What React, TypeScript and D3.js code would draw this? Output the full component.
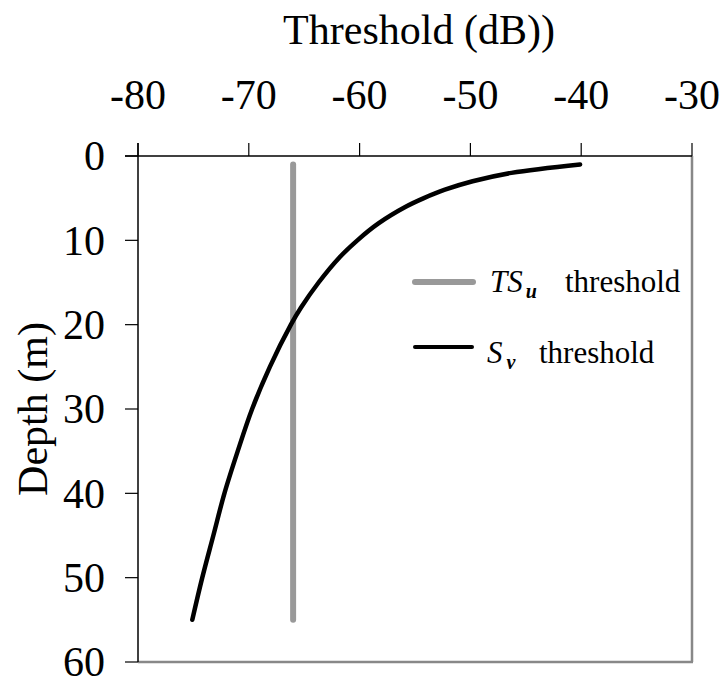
import React from "react";
import * as d3 from "d3";

const xTicks = [-80, -70, -60, -50, -40, -30];
const yTicks = [0, 10, 20, 30, 40, 50, 60];

// TSu threshold (vertical line)
const tsDepth = [1, 55];
const tsValue = [-66, -66];

// Sv threshold curve
const svDepth = [1, 2, 3, 4, 5, 6, 8, 10, 12, 15, 18, 20, 25, 30, 35, 40, 45, 50, 55];
const svValue = [-40.1, -46.3, -49.8, -52.3, -54.2, -55.8, -58.3, -60.2, -61.8, -63.7, -65.3, -66.2, -68.1, -69.7, -71.0, -72.2, -73.2, -74.2, -75.1];

const W = 725;
const H = 684;
const left = 138;
const right = 692;
const top = 156;
const bottom = 662;
const FONT = "'Liberation Serif', 'Times New Roman', serif";

export default function App() {
  const x = d3.scaleLinear().domain([-80, -30]).range([left, right]);
  const y = d3.scaleLinear().domain([0, 60]).range([top, bottom]);

  const line = d3
    .line<[number, number]>()
    .x((d) => x(d[0]))
    .y((d) => y(d[1]))
    .curve(d3.curveCatmullRom.alpha(0.5));

  const tsPts: [number, number][] = tsDepth.map((d, i) => [tsValue[i], d]);
  const svPts: [number, number][] = svDepth.map((d, i) => [svValue[i], d]);

  return (
    <svg
      width={W}
      height={H}
      style={{ position: "absolute", left: 0, top: 0, background: "#fff" }}
      fontFamily={FONT}
    >
      <rect x={0} y={0} width={W} height={H} fill="#fff" />
      {/* plot border right & bottom */}
      <line x1={right} x2={right} y1={top} y2={bottom} stroke="#888" strokeWidth={2.5} />
      <line x1={left} x2={right + 1} y1={bottom} y2={bottom} stroke="#888" strokeWidth={2.5} />

      {/* top axis */}
      <line x1={125} x2={right} y1={top} y2={top} stroke="#000" strokeWidth={1.5} />
      {xTicks.map((t) => (
        <g key={"x" + t}>
          <line x1={x(t)} x2={x(t)} y1={top - 13} y2={top} stroke="#000" strokeWidth={1.2} />
          <text x={x(t)} y={109} textAnchor="middle" fontSize={42} fill="#000" fontFamily={FONT}>
            {t}
          </text>
        </g>
      ))}

      {/* left axis */}
      <line x1={left} x2={left} y1={top - 13} y2={bottom} stroke="#000" strokeWidth={1.5} />
      {yTicks.map((t) => (
        <g key={"y" + t}>
          <line x1={125} x2={left} y1={y(t)} y2={y(t)} stroke="#000" strokeWidth={1.2} />
          <text x={105} y={y(t)} dy="0.34em" textAnchor="end" fontSize={42} fill="#000" fontFamily={FONT}>
            {t}
          </text>
        </g>
      ))}

      {/* titles */}
      <text x={419} y={44} textAnchor="middle" fontSize={42} fill="#000">
        Threshold (dB))
      </text>
      <text
        transform={`translate(47, ${(top + bottom) / 2}) rotate(-90)`}
        textAnchor="middle"
        fontSize={42}
        fill="#000"
      >
        Depth (m)
      </text>

      {/* data */}
      <path d={line(tsPts) || ""} fill="none" stroke="#999" strokeWidth={6} strokeLinecap="round" />
      <path d={line(svPts) || ""} fill="none" stroke="#000" strokeWidth={4.5} strokeLinecap="round" />

      {/* legend */}
      <line x1={415} x2={473} y1={282} y2={282} stroke="#999" strokeWidth={6} strokeLinecap="round" />
      <text x={490} y={292} fontSize={31} fill="#000">
        <tspan fontStyle="italic">TS</tspan>
        <tspan fontStyle="italic" fontWeight="bold" fontSize={20} dx={3} dy={6}>u</tspan>
        <tspan dy={-6} x={565}>threshold</tspan>
      </text>
      <line x1={415} x2={472} y1={347} y2={347} stroke="#000" strokeWidth={4} strokeLinecap="round" />
      <text x={487} y={363} fontSize={31} fill="#000">
        <tspan fontStyle="italic">S</tspan>
        <tspan fontStyle="italic" fontWeight="bold" fontSize={20} dx={4} dy={6}>v</tspan>
        <tspan dy={-6} x={539}>threshold</tspan>
      </text>
    </svg>
  );
}
